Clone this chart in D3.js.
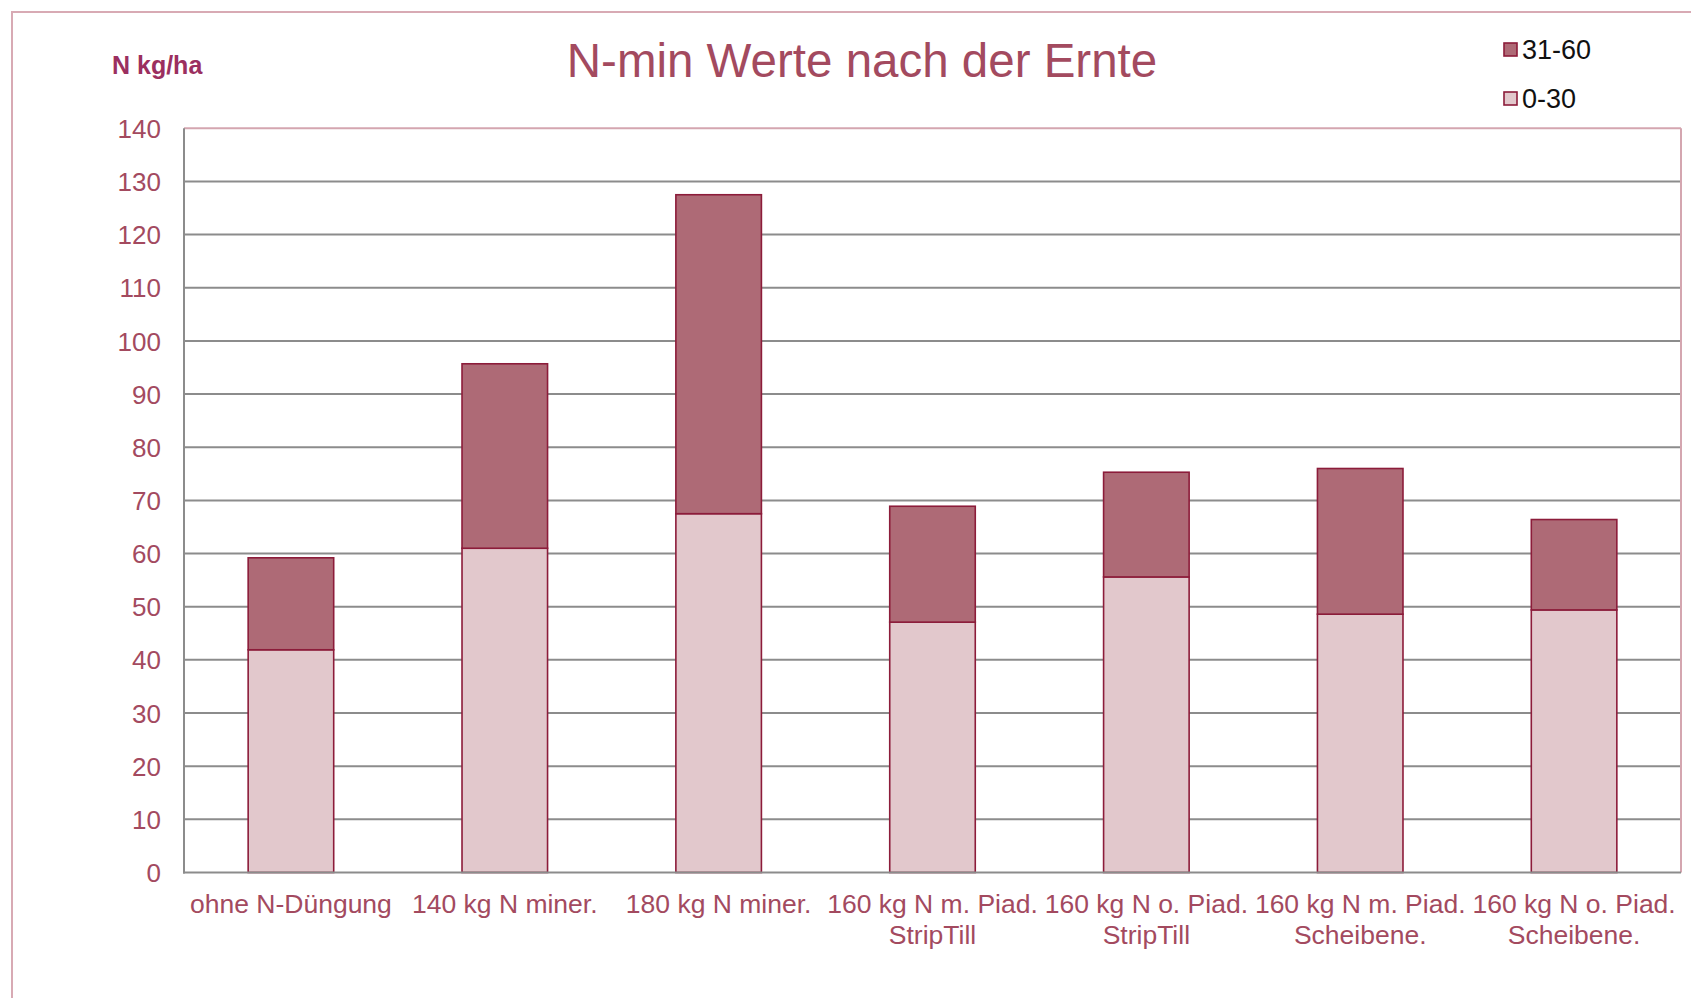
<!DOCTYPE html>
<html><head><meta charset="utf-8">
<script src="https://cdn.jsdelivr.net/npm/d3@7/dist/d3.min.js"></script>
<style>html,body{margin:0;padding:0;background:#fff;overflow:hidden}svg{display:block}</style>
</head><body><svg id="c" width="1691" height="998"></svg>
<script>
const categories = ["ohne N-Düngung","140 kg N miner.","180 kg N miner.","160 kg N m. Piad.|StripTill","160 kg N o. Piad.|StripTill","160 kg N m. Piad.|Scheibene.","160 kg N o. Piad.|Scheibene."];
const seriesNames = ["0-30","31-60"];
const values0_30 = [41.9, 61.0, 67.5, 47.1, 55.6, 48.6, 49.4];
const values31_60 = [17.3, 34.7, 60.0, 21.8, 19.7, 27.4, 17.0];
const yTicks = [0,10,20,30,40,50,60,70,80,90,100,110,120,130,140];

const svg = d3.select("#c");
const font = "'Liberation Sans', Arial, sans-serif";
const textCol = "#a34a5f";
const L = 184, R = 1681, T = 128.3, B = 872.5;

// outer border
svg.append("rect").attr("x",12).attr("y",12).attr("width",1720).attr("height",1020)
  .attr("fill","none").attr("stroke","#d8aab4").attr("stroke-width",2);

const x = d3.scaleBand().domain(categories).range([L,R]).paddingInner(0.6).paddingOuter(0.3);
const y = d3.scaleLinear().domain([0,140]).range([B,T]);

// gridlines
const g = svg.append("g");
g.selectAll("line.grid").data(yTicks.filter(d=>d>0 && d<140)).join("line")
  .attr("x1",L).attr("x2",R).attr("y1",d=>y(d)).attr("y2",d=>y(d))
  .attr("stroke","#8c8c8c").attr("stroke-width",2);
// top & right border of plot
svg.append("line").attr("x1",L).attr("x2",R).attr("y1",y(140)).attr("y2",y(140)).attr("stroke","#d4a6b0").attr("stroke-width",2);
svg.append("line").attr("x1",R).attr("x2",R).attr("y1",y(140)).attr("y2",B).attr("stroke","#d4a6b0").attr("stroke-width",2);

// stacked data
const stackData = categories.map((c,i)=>({cat:c, "0-30":values0_30[i], "31-60":values31_60[i]}));
const stack = d3.stack().keys(seriesNames)(stackData);
const fills = {"0-30":"#e2c8cc","31-60":"#ae6a76"};
stack.forEach(layer=>{
  svg.append("g").selectAll("rect").data(layer).join("rect")
    .attr("x",d=>x(d.data.cat)).attr("width",x.bandwidth())
    .attr("y",d=>y(d[1])).attr("height",d=>y(d[0])-y(d[1]))
    .attr("fill",fills[layer.key]).attr("stroke","#8c1c3a").attr("stroke-width",1.6);
});

// axes lines
svg.append("line").attr("x1",L).attr("x2",L).attr("y1",T).attr("y2",B+1).attr("stroke","#8c8c8c").attr("stroke-width",2);
svg.append("line").attr("x1",L-1).attr("x2",R).attr("y1",B).attr("y2",B).attr("stroke","#8c8c8c").attr("stroke-width",2);

// y tick labels
const yAxis = d3.axisLeft(y).tickValues(yTicks).tickSize(0).tickPadding(23);
const ya = svg.append("g").attr("transform",`translate(${L},0)`).call(yAxis);
ya.select(".domain").remove();
ya.selectAll("text").attr("font-family",font).attr("font-size",26).attr("fill",textCol).attr("dy","0.35em");

// x labels
const xa = svg.append("g");
categories.forEach(c=>{
  const lines = c.split("|");
  const t = xa.append("text").attr("x",x(c)+x.bandwidth()/2).attr("y",913)
    .attr("text-anchor","middle").attr("font-family",font).attr("font-size",26.5).attr("fill",textCol);
  lines.forEach((ln,j)=>t.append("tspan").attr("x",x(c)+x.bandwidth()/2).attr("dy",j===0?0:30.5).text(ln));
});

// title
svg.append("text").attr("x",862).attr("y",77).attr("text-anchor","middle")
  .attr("font-family",font).attr("font-size",47.5).attr("fill","#a34a5f").text("N-min Werte nach der Ernte");
// y label
svg.append("text").attr("x",112).attr("y",73.5).attr("font-family",font).attr("font-size",25)
  .attr("font-weight","bold").attr("fill","#9b2f60").text("N kg/ha");

// legend
const legendOrder = ["31-60","0-30"];
legendOrder.forEach((k,i)=>{
  const yy = 43 + i*49;
  svg.append("rect").attr("x",1504).attr("y",yy).attr("width",13).attr("height",13)
    .attr("fill",fills[k]).attr("stroke","#8c1c3a").attr("stroke-width",1.6);
  svg.append("text").attr("x",1522).attr("y",yy+16).attr("font-family",font).attr("font-size",27)
    .attr("fill","#111").text(k);
});
</script></body></html>
